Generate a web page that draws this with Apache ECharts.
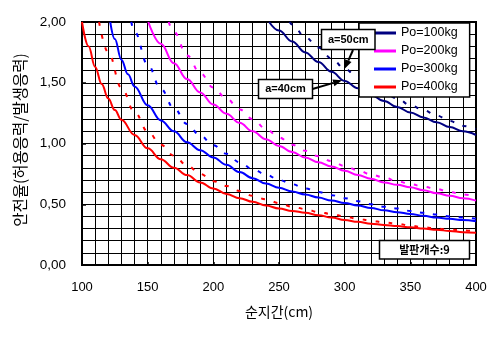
<!DOCTYPE html>
<html>
<head>
<meta charset="utf-8">
<script src="https://cdn.jsdelivr.net/npm/echarts@6/dist/echarts.min.js"></script>
<style>
  html, body { margin: 0; padding: 0; background: #fff; }
  #chart { width: 493px; height: 337px; }
</style>
</head>
<body>
<div id="chart"></div>
<script>
// Span (cm) vs. safety factor (allowable stress / working stress), 9 boards.
// Solid lines: a = 40 cm, dashed lines: a = 50 cm.
const xTickLabels = [100, 150, 200, 250, 300, 350, 400];
const yTickLabels = ['0,00', '0,50', '1,00', '1,50', '2,00'];

const po100_a40 = [[242.5,2.0],[250,1.93],[260,1.84],[270,1.75],[280,1.67],[290,1.59],[300,1.515],[310,1.455],[320,1.40],[330,1.35],[340,1.30],[350,1.255],[360,1.215],[370,1.175],[380,1.135],[390,1.10],[400,1.07]];
const po100_a50 = [[258,2.0],[260,1.98],[270,1.875],[280,1.79],[290,1.70],[300,1.615],[310,1.545],[320,1.475],[330,1.42],[340,1.37],[350,1.315],[360,1.275],[370,1.23],[380,1.185],[390,1.145],[400,1.12]];

const po200_a40 = [[150.5,2.0],[160,1.82],[170,1.66],[180,1.53],[190,1.42],[200,1.32],[210,1.245],[220,1.17],[230,1.10],[240,1.035],[250,0.98],[260,0.93],[270,0.885],[280,0.845],[290,0.81],[300,0.775],[310,0.74],[320,0.71],[330,0.68],[340,0.66],[350,0.64],[360,0.615],[370,0.59],[380,0.57],[390,0.55],[400,0.53]];
const po200_a50 = [[166,2.0],[170,1.92],[180,1.725],[190,1.58],[200,1.46],[210,1.37],[220,1.28],[230,1.20],[240,1.12],[250,1.05],[260,0.99],[270,0.94],[280,0.895],[290,0.855],[300,0.815],[310,0.78],[320,0.745],[330,0.72],[340,0.69],[350,0.665],[360,0.645],[370,0.625],[380,0.60],[390,0.58],[400,0.565]];

const po300_a40 = [[121.5,2.0],[125,1.86],[130,1.69],[135,1.57],[140,1.47],[150,1.315],[160,1.19],[170,1.10],[180,1.01],[190,0.945],[200,0.885],[210,0.825],[220,0.765],[230,0.715],[240,0.67],[250,0.635],[260,0.605],[270,0.58],[280,0.555],[290,0.53],[300,0.51],[310,0.49],[320,0.47],[330,0.45],[340,0.435],[350,0.42],[360,0.405],[370,0.39],[380,0.38],[390,0.37],[400,0.36]];
const po300_a50 = [[137.5,2.0],[140,1.92],[150,1.65],[160,1.45],[170,1.29],[180,1.16],[190,1.065],[200,0.985],[210,0.915],[220,0.845],[230,0.79],[240,0.745],[250,0.70],[260,0.665],[270,0.63],[280,0.60],[290,0.575],[300,0.55],[310,0.525],[320,0.50],[330,0.48],[340,0.465],[350,0.445],[360,0.43],[370,0.415],[380,0.40],[390,0.39],[400,0.38]];

const po400_a40 = [[100,2.0],[105,1.8],[110,1.63],[115,1.49],[120,1.37],[125,1.275],[130,1.195],[140,1.07],[150,0.96],[160,0.87],[170,0.80],[180,0.74],[190,0.68],[200,0.63],[210,0.585],[220,0.55],[230,0.52],[240,0.49],[250,0.465],[260,0.445],[270,0.43],[280,0.41],[290,0.39],[300,0.37],[310,0.355],[320,0.34],[330,0.33],[340,0.32],[350,0.31],[360,0.30],[370,0.29],[380,0.28],[390,0.27],[400,0.265]];
const po400_a50 = [[113,2.0],[120,1.75],[130,1.46],[140,1.26],[150,1.10],[160,0.99],[170,0.90],[180,0.82],[190,0.75],[200,0.69],[210,0.65],[220,0.61],[230,0.57],[240,0.54],[250,0.51],[260,0.48],[270,0.46],[280,0.435],[290,0.42],[300,0.40],[310,0.38],[320,0.365],[330,0.35],[340,0.34],[350,0.325],[360,0.31],[370,0.30],[380,0.29],[390,0.285],[400,0.275]];

const loadNames = ['Po=100kg', 'Po=200kg', 'Po=300kg', 'Po=400kg'];
const loadColors = ['#000080', '#FF00FF', '#0000FF', '#FF0000'];
const solidSets = [po100_a40, po200_a40, po300_a40, po400_a40];
const dashedSets = [po100_a50, po200_a50, po300_a50, po400_a50];

const LATIN = '"Liberation Sans", Arial, sans-serif';
const HANGUL = '"Noto Sans CJK KR", "Noto Sans", sans-serif';

const chart = echarts.init(document.getElementById('chart'), null, { renderer: 'canvas' });

const series = [];
loadNames.forEach((name, i) => {
  series.push({
    name: name,
    type: 'line',
    data: solidSets[i],
    showSymbol: false,
    smooth: 0.4,
    smoothMonotone: 'x',
    lineStyle: { color: loadColors[i], width: 2 },
    itemStyle: { color: loadColors[i] },
    silent: true,
    z: 3
  });
  series.push({
    name: name + ' (a=50cm)',
    type: 'line',
    data: dashedSets[i],
    showSymbol: false,
    smooth: 0.4,
    smoothMonotone: 'x',
    lineStyle: { color: loadColors[i], width: 2, type: [4, 9] },
    itemStyle: { color: loadColors[i] },
    silent: true,
    z: 3
  });
});

const gridLine = { show: true, lineStyle: { color: '#000', width: 1 } };

chart.setOption({
  animation: false,
  backgroundColor: '#fff',
  grid: {
    left: 82, top: 22, width: 394, height: 243,
    show: true, borderColor: '#000', borderWidth: 2, backgroundColor: 'transparent'
  },
  legend: {
    data: loadNames,
    orient: 'vertical',
    left: 359, top: 23,
    padding: [1, 12, 1, 15],
    itemGap: 0,
    itemWidth: 22, itemHeight: 3,
    icon: 'rect',
    backgroundColor: '#fff',
    borderColor: '#000', borderWidth: 1.5,
    textStyle: { fontFamily: LATIN, fontSize: 12.5, color: '#000', lineHeight: 18 }
  },
  xAxis: {
    type: 'value', min: 100, max: 400, interval: 50,
    axisLine: { show: true, lineStyle: { color: '#000', width: 2 } },
    axisTick: { show: true, inside: true, length: 3, lineStyle: { color: '#000', width: 1.5 } },
    axisLabel: {
      color: '#000', fontFamily: LATIN, fontSize: 13, margin: 16,
      formatter: v => String(xTickLabels[xTickLabels.indexOf(v)] ?? v)
    },
    splitLine: gridLine,
    minorTick: { show: false, splitNumber: 5 },
    minorSplitLine: gridLine
  },
  yAxis: {
    type: 'value', min: 0, max: 2, interval: 0.5,
    axisLine: { show: true, lineStyle: { color: '#000', width: 2 } },
    axisTick: { show: true, inside: true, length: 4, lineStyle: { color: '#000', width: 1.5 } },
    axisLabel: {
      color: '#000', fontFamily: LATIN, fontSize: 13.5, margin: 16,
      formatter: v => yTickLabels[Math.round(v / 0.5)]
    },
    splitLine: gridLine,
    minorTick: { show: false, splitNumber: 5 },
    minorSplitLine: gridLine
  },
  series: series
});

// Annotation arrows point at the curves' values at a span of 300 cm.
function valueAt(set, x) {
  const p = set.find(d => d[0] === x);
  return p ? p[1] : null;
}
const tip40 = chart.convertToPixel({ gridIndex: 0 }, [298, valueAt(po100_a40, 300) + 0.005]);
const tip50 = chart.convertToPixel({ gridIndex: 0 }, [300, valueAt(po100_a50, 300)]);

function arrow(from, to) {
  const dx = to[0] - from[0], dy = to[1] - from[1];
  const len = Math.hypot(dx, dy);
  const ux = dx / len, uy = dy / len;
  const headLen = 9, headW = 3.5;
  const bx = to[0] - ux * headLen, by = to[1] - uy * headLen;
  return [
    {
      type: 'line', z: 20,
      shape: { x1: from[0], y1: from[1], x2: bx, y2: by },
      style: { stroke: '#000', lineWidth: 2 }
    },
    {
      type: 'polygon', z: 20,
      shape: { points: [[to[0], to[1]], [bx - uy * headW, by + ux * headW], [bx + uy * headW, by - ux * headW]] },
      style: { fill: '#000' }
    }
  ];
}

function labelBox(x, y, w, h, text, font) {
  return [
    {
      type: 'rect', z: 21,
      shape: { x: x, y: y, width: w, height: h },
      style: { fill: '#fff', stroke: '#000', lineWidth: 1.5 }
    },
    {
      type: 'text', z: 22,
      x: x + w / 2, y: y + h / 2,
      style: {
        text: text, fill: '#000', font: font,
        align: 'center', verticalAlign: 'middle'
      }
    }
  ];
}

chart.setOption({
  graphic: [
    ...arrow([312.5, 89], tip40),
    ...arrow([353, 50], tip50),
    ...labelBox(258.5, 79.5, 54, 19, 'a=40cm', 'bold 11px ' + LATIN),
    ...labelBox(321.5, 29.5, 53.5, 20, 'a=50cm', 'bold 11px ' + LATIN),
    ...labelBox(379.5, 240.5, 90, 18.5, '발판개수:9', 'bold 11px ' + HANGUL),
    {
      type: 'text', z: 10,
      x: 279, y: 311.5,
      style: {
        text: '순지간(cm)', fill: '#000', font: '14px ' + HANGUL,
        align: 'center', verticalAlign: 'middle'
      }
    },
    {
      type: 'text', z: 10,
      x: 20, y: 140,
      rotation: Math.PI / 2,
      style: {
        text: '안전율(허용응력/발생응력)', fill: '#000', font: '15.5px ' + HANGUL,
        align: 'center', verticalAlign: 'middle'
      }
    }
  ]
});
</script>
</body>
</html>
